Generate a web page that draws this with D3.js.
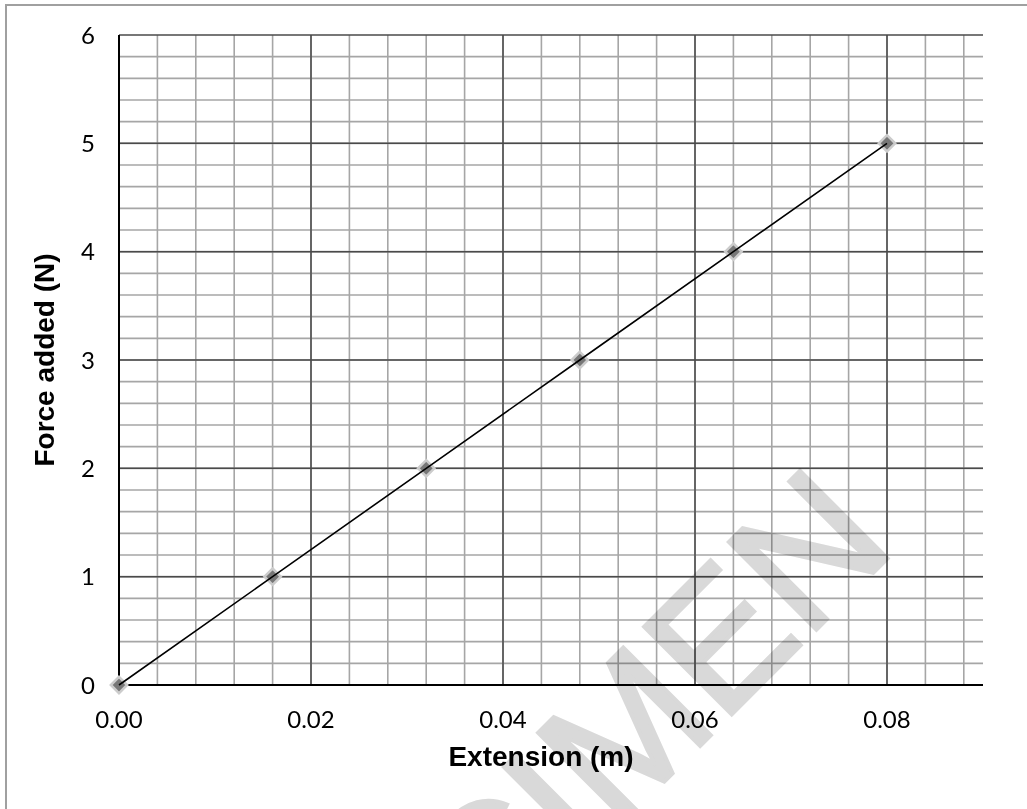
<!DOCTYPE html>
<html>
<head>
<meta charset="utf-8">
<script src="https://cdn.jsdelivr.net/npm/d3@7"></script>
<style>
  body { margin: 0; background: #fff; }
  svg { display: block; }
</style>
</head>
<body>
<svg id="chart" width="1027" height="809"></svg>
<script>
// spring extension data
const extension = [0, 0.016, 0.032, 0.048, 0.064, 0.08]
const force = [0, 1, 2, 3, 4, 5]
const xTicks = [0, 0.02, 0.04, 0.06, 0.08]
const yTicks = [0, 1, 2, 3, 4, 5, 6]
const xMinor = d3.range(0.004, 0.0899, 0.004)
const yMinor = d3.range(0.2, 5.99, 0.2)

const svg = d3.select("#chart")
const plotLeft = 119, plotRight = 983, plotTop = 35, plotBottom = 685

const x = d3.scaleLinear().domain([0, 0.09]).range([plotLeft, plotRight])
const y = d3.scaleLinear().domain([0, 6]).range([plotBottom, plotTop])

// outer frame
svg.append("rect")
    .attr("x", 6).attr("y", 5)
    .attr("width", 1040).attr("height", 820)
    .attr("fill", "none")
    .attr("stroke", "#a0a0a0")
    .attr("stroke-width", 2)

const grid = svg.append("g")

grid.selectAll("line.xminor").data(xMinor).enter().append("line")
    .attr("x1", d => x(d)).attr("x2", d => x(d))
    .attr("y1", plotTop).attr("y2", plotBottom)
    .attr("stroke", "#a6a6a6").attr("stroke-width", 1.6)

grid.selectAll("line.yminor").data(yMinor).enter().append("line")
    .attr("x1", plotLeft).attr("x2", plotRight)
    .attr("y1", d => y(d)).attr("y2", d => y(d))
    .attr("stroke", "#a6a6a6").attr("stroke-width", 1.6)

grid.selectAll("line.xmajor").data(xTicks.filter(d => d > 0)).enter().append("line")
    .attr("x1", d => x(d)).attr("x2", d => x(d))
    .attr("y1", plotTop).attr("y2", plotBottom)
    .attr("stroke", "#4a4a4a").attr("stroke-width", 1.5)

grid.selectAll("line.ymajor").data(yTicks.filter(d => d > 0)).enter().append("line")
    .attr("x1", plotLeft).attr("x2", plotRight)
    .attr("y1", d => y(d)).attr("y2", d => y(d))
    .attr("stroke", "#4a4a4a").attr("stroke-width", 1.5)

// axes lines
svg.append("line")
    .attr("x1", plotLeft).attr("x2", plotLeft).attr("y1", plotTop).attr("y2", plotBottom)
    .attr("stroke", "#000").attr("stroke-width", 2)
svg.append("line")
    .attr("x1", plotLeft).attr("x2", plotRight).attr("y1", plotBottom).attr("y2", plotBottom)
    .attr("stroke", "#000").attr("stroke-width", 2)

// tick labels
svg.selectAll("text.xt").data(xTicks).enter().append("text")
    .attr("x", d => x(d)).attr("y", 728)
    .attr("text-anchor", "middle")
    .attr("font-family", "Lato")
    .attr("font-size", 24)
    .attr("fill", "#000")
    .text(d => d.toFixed(2))

svg.selectAll("text.yt").data(yTicks).enter().append("text")
    .attr("x", 95).attr("y", d => y(d))
    .attr("dy", "0.36em")
    .attr("text-anchor", "end")
    .attr("font-family", "Lato")
    .attr("font-size", 24)
    .attr("fill", "#000")
    .text(d => d)

// axis titles
svg.append("text")
    .attr("x", 541).attr("y", 766)
    .attr("text-anchor", "middle")
    .attr("font-family", "Liberation Sans, Arial")
    .attr("font-weight", "bold")
    .attr("font-size", 28)
    .text("Extension (m)")

svg.append("text")
    .attr("transform", "translate(54, 360) rotate(-90)")
    .attr("text-anchor", "middle")
    .attr("font-family", "Liberation Sans, Arial")
    .attr("font-weight", "bold")
    .attr("font-size", 28)
    .text("Force added (N)")

// markers
const pts = extension.map((e, i) => [e, force[i]])
svg.selectAll("path.pt").data(pts).enter().append("path")
    .attr("d", d3.symbol().type(d3.symbolDiamond2).size(170))
    .attr("transform", d => `translate(${x(d[0])}, ${y(d[1])})`)
    .attr("fill", "#777777")
    .attr("stroke", "#cccccc")
    .attr("stroke-width", 2.5)

// series line
const line = d3.line().x(d => x(d[0])).y(d => y(d[1]))
svg.append("path")
    .datum(pts)
    .attr("d", line)
    .attr("fill", "none")
    .attr("stroke", "#000")
    .attr("stroke-width", 1.6)

// watermark
svg.append("text")
    .attr("transform", "translate(898, 548) rotate(-45)")
    .attr("text-anchor", "end")
    .attr("font-family", "Liberation Sans, Arial")
    .attr("font-size", 180)
    .attr("fill", "#d9d9d9")
    .attr("stroke", "#d9d9d9")
    .attr("stroke-width", 4)
    .attr("stroke-linejoin", "miter")
    .style("mix-blend-mode", "multiply")
    .text("SPECIMEN")
</script>
</body>
</html>
